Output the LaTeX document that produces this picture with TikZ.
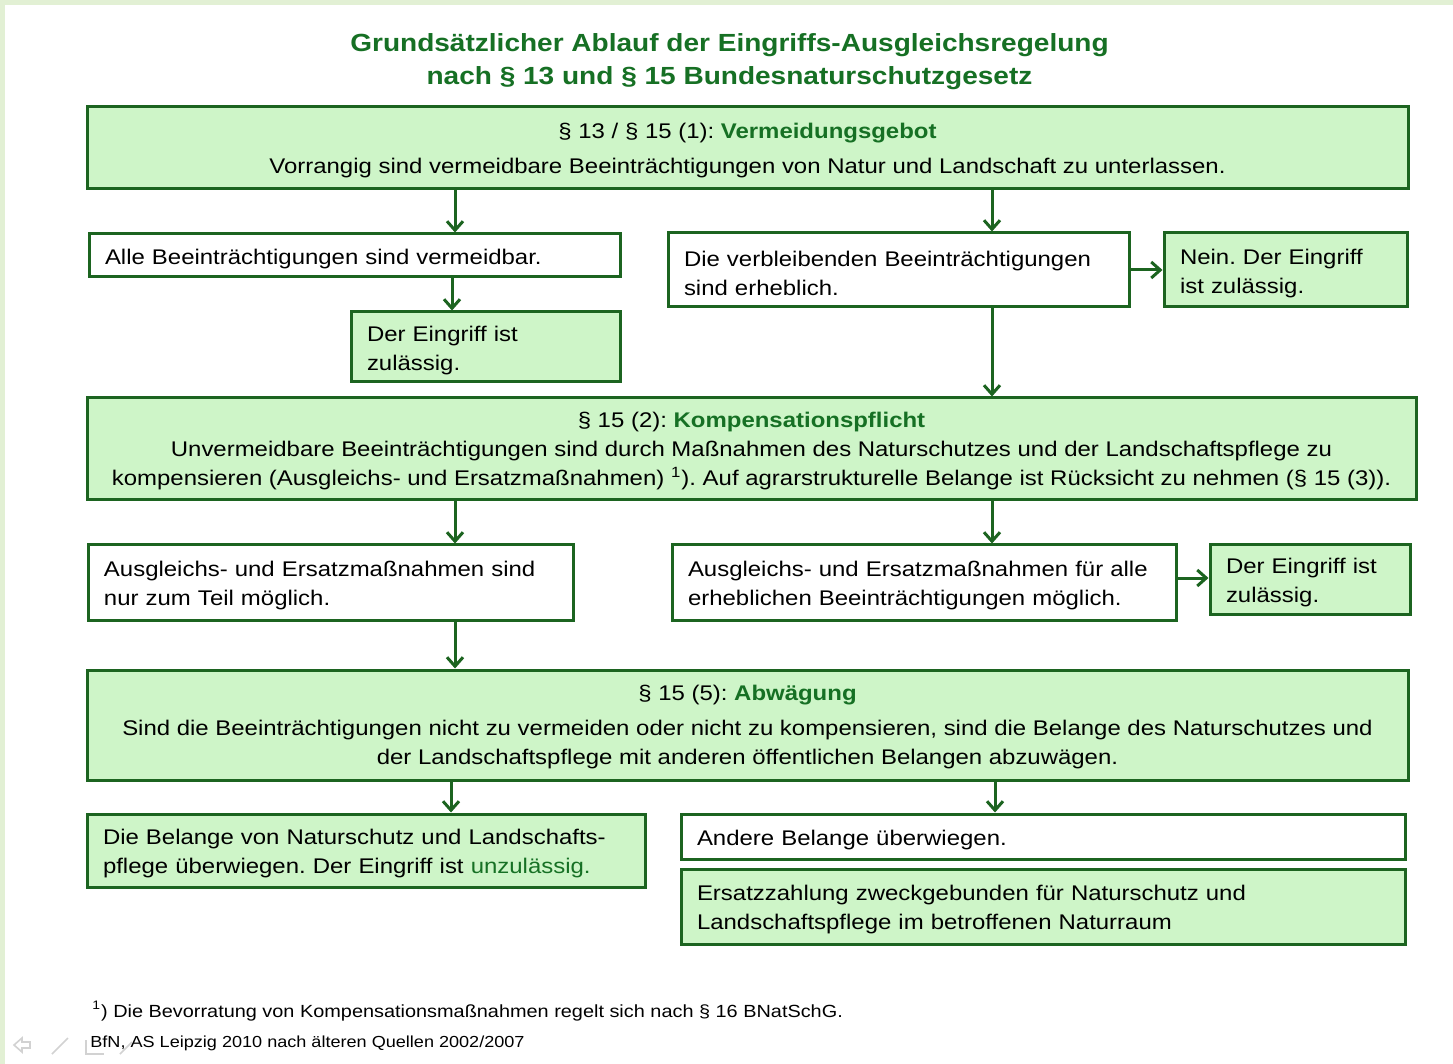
\documentclass[tikz,border=0pt]{standalone}
\usepackage{fontspec}
\setmainfont[FakeStretch=1.13]{Liberation Sans}
\usetikzlibrary{arrows.meta}
\definecolor{dgreen}{RGB}{28,100,32}
\definecolor{tgreen}{RGB}{22,112,36}
\definecolor{lgreen}{RGB}{206,245,200}
\definecolor{frame}{RGB}{226,240,212}
\begin{document}
\frenchspacing
\begin{tikzpicture}[x=0.5pt,y=-0.5pt,
  box/.style={draw=dgreen,line width=1.5pt,inner xsep=8pt,inner ysep=0pt,
    font=\fontsize{10.6}{14.5}\selectfont\frenchspacing},
  gbox/.style={box,fill=lgreen},
  wbox/.style={box,fill=white},
  ct/.style={align=center,text depth=-1pt},
  lt/.style={align=left,execute at begin node={\rule{0pt}{10.8pt}}},
  arr/.style={draw=dgreen,line width=1.5pt,-{Straight Barb[length=4.5pt,width=8pt]}}]
\useasboundingbox (0,0) rectangle (1453,1064);
\fill[white] (0,0) rectangle (1453,1064);
\fill[frame] (0,0) rectangle (1453,5);
\fill[frame] (0,0) rectangle (5,1064);

% title
\node[align=center,text=tgreen,font=\bfseries\fontsize{12.4}{16.5}\selectfont] (title) at (729.5,61.5)
  {Grundsätzlicher Ablauf der Eingriffs-Ausgleichsregelung\\nach § 13 und § 15 Bundesnaturschutzgesetz};

% boxes
\node[gbox,ct,minimum width=660.5pt,minimum height=41pt] (top) at (747.5,148)
  {§ 13 / § 15 (1): {\color{tgreen}\bfseries Vermeidungsgebot}\\[3pt]
   Vorrangig sind vermeidbare Beeinträchtigungen von Natur und Landschaft zu unterlassen.};
\node[wbox,lt,minimum width=265.5pt,minimum height=21.5pt,text width=249.5pt] (b2) at (354.5,255.5)
  {Alle Beeinträchtigungen sind vermeidbar.};
\node[gbox,lt,minimum width=134.5pt,minimum height=35pt,text width=118.5pt] (b3) at (485.5,347)
  {Der Eingriff ist\\zulässig.};
\node[wbox,lt,minimum width=230.5pt,minimum height=37pt,text width=214.5pt] (b4) at (898.5,270)
  {Die verbleibenden Beeinträchtigungen\\sind erheblich.};
\node[gbox,lt,minimum width=121.5pt,minimum height=37pt,text width=105.5pt] (b5) at (1285.5,270)
  {Nein. Der Eingriff\\ist zulässig.};
\node[gbox,ct,minimum width=664.5pt,minimum height=51pt] (komp) at (751.5,449)
  {§ 15 (2): {\color{tgreen}\bfseries Kompensationspflicht}\\
   Unvermeidbare Beeinträchtigungen sind durch Maßnahmen des Naturschutzes und der Landschaftspflege zu\\
   kompensieren (Ausgleichs- und Ersatzmaßnahmen) \textsuperscript{1}). Auf agrarstrukturelle Belange ist Rücksicht zu nehmen (§ 15 (3)).};
\node[wbox,lt,minimum width=242.5pt,minimum height=37.5pt,text width=226.5pt] (b7) at (330.5,582.5)
  {Ausgleichs- und Ersatzmaßnahmen sind\\nur zum Teil möglich.};
\node[wbox,lt,minimum width=252pt,minimum height=37.5pt,text width=236pt] (b8) at (924,582.5)
  {Ausgleichs- und Ersatzmaßnahmen für alle\\erheblichen Beeinträchtigungen möglich.};
\node[gbox,lt,minimum width=100pt,minimum height=34.5pt,text width=84pt] (b9) at (1310,579.5)
  {Der Eingriff ist\\zulässig.};
\node[gbox,ct,minimum width=660.5pt,minimum height=55pt] (abw) at (747.5,725)
  {§ 15 (5): {\color{tgreen}\bfseries Abwägung}\\[3pt]
   Sind die Beeinträchtigungen nicht zu vermeiden oder nicht zu kompensieren, sind die Belange des Naturschutzes und\\
   der Landschaftspflege mit anderen öffentlichen Belangen abzuwägen.};
\node[gbox,lt,minimum width=279pt,minimum height=36.5pt,text width=263pt] (b11) at (366,850.5)
  {Die Belange von Naturschutz und Landschafts-\\pflege überwiegen. Der Eingriff ist {\color{tgreen}unzulässig.}};
\node[wbox,lt,minimum width=362pt,minimum height=22.5pt,text width=346pt] (b12) at (1043,836.5)
  {Andere Belange überwiegen.};
\node[gbox,lt,minimum width=362pt,minimum height=37.5pt,text width=346pt] (b13) at (1043,906.5)
  {Ersatzzahlung zweckgebunden für Naturschutz und\\Landschaftspflege im betroffenen Naturraum};

% connector columns
\coordinate (xa) at (455,0);
\coordinate (xb) at (992,0);
\coordinate (xc) at (452,0);
\coordinate (xd) at (451,0);
\coordinate (xe) at (995,0);
\coordinate (yh) at (0,578);

\draw[arr] (top.south -| xa) -- (b2.north -| xa);
\draw[arr] (top.south -| xb) -- (b4.north -| xb);
\draw[arr] (b2.south -| xc) -- (b3.north -| xc);
\draw[arr] (b4.east) -- (b5.west);
\draw[arr] (b4.south -| xb) -- (komp.north -| xb);
\draw[arr] (komp.south -| xa) -- (b7.north -| xa);
\draw[arr] (komp.south -| xb) -- (b8.north -| xb);
\draw[arr] (b8.east |- yh) -- (b9.west |- yh);
\draw[arr] (b7.south -| xa) -- (abw.north -| xa);
\draw[arr] (abw.south -| xd) -- (b11.north -| xd);
\draw[arr] (abw.south -| xe) -- (b12.north -| xe);

% footnotes
\node[anchor=base west,inner sep=0pt,font=\fontsize{8.8}{10}\selectfont] (fn) at (92,1017)
  {\textsuperscript{1}) Die Bevorratung von Kompensationsmaßnahmen regelt sich nach § 16 BNatSchG.};
\node[anchor=base west,inner sep=0pt,font=\fontsize{8.0}{10}\selectfont] (src) at (90,1047)
  {BfN, AS Leipzig 2010 nach älteren Quellen 2002/2007};

% faint navigation icons
\draw[gray!35,line width=0.8pt] (14,1045) -- (22,1038) -- (22,1042) -- (30,1042) -- (30,1048) -- (22,1048) -- (22,1052) -- cycle;
\draw[gray!35,line width=0.8pt] (52,1054) -- (68,1038);
\draw[gray!35,line width=0.8pt] (86,1040) -- (86,1054) -- (104,1054);
\draw[gray!35,line width=0.8pt] (120,1054) -- (132,1042);
\end{tikzpicture}
\end{document}
